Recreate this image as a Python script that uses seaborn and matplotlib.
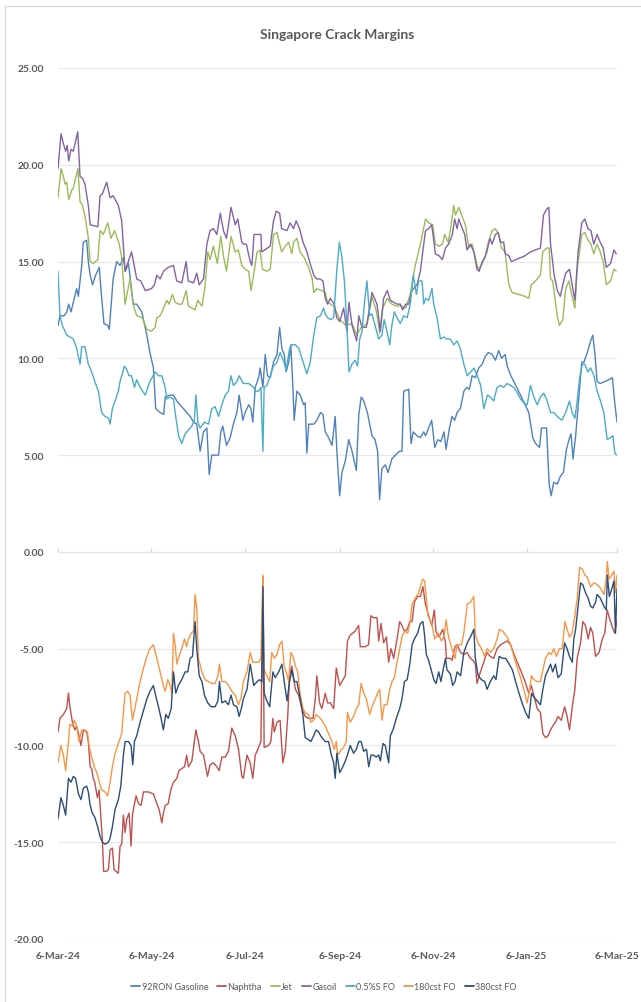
import numpy as np
import pandas as pd
import matplotlib
matplotlib.use("Agg")
import matplotlib.pyplot as plt
from matplotlib.lines import Line2D
import seaborn as sns

# day offset from 6-Mar-2024, crack margin ($/bbl)
start_date = pd.Timestamp("2024-03-06")
end_date = pd.Timestamp("2025-03-06")

gasoline = [(0,11.7),(1.3,12.2),(4,12.2),(5.7,12.4),(7,12.8),(8.5,12.4),(10,12.9),(12.2,13.6),(13.3,13.2),(15.5,14.8),
    (16.5,16.0),(18.7,16.1),(19.8,15.0),(21,14.3),(22.5,13.8),(24.6,14.3),(27,14.7),(28,13.6),(30,11.8),(32.5,11.7),
    (33.5,11.5),(36,14.1),(38.3,15.0),(40.5,14.8),(42.7,15.2),(44,14.5),(46,14.9),(47.7,13.8),(49.2,12.8),(51.4,12.8),
    (54.7,12.4),(58,11.2),(60,10.3),(62.3,9.5),(63.8,7.4),(66.7,7.2),(69,7.1),(70,8.0),(73,8.1),(75.4,8.1),
    (77.5,7.8),(79.7,7.6),(81.9,7.4),(84,7.2),(86.3,7.0),(88.5,6.7),(90.6,6.6),(92.8,5.2),(95,6.2),(97.2,6.4),
    (98.7,4.0),(100.4,5.0),(104.8,5.0),(106.3,6.2),(107.6,6.5),(110,5.5),(112.4,5.9),(114.5,6.6),(116.8,7.2),(118.3,8.1),
    (120.7,6.8),(122.2,7.2),(124.5,7.6),(126,7.4),(127.2,6.7),(128.8,8.5),(131,9.0),(132,9.5),(133.8,8.5),(135.3,10.2),
    (136.8,9.1),(138.6,9.0),(140.7,9.8),(143,10.2),(144.7,11.6),(146.2,10.5),(147.7,10.2),(149,9.3),(150.6,9.8),(152,10.7),
    (153.5,8.3),(154.2,6.8),(156,8.3),(158.2,8.1),(160.4,7.6),(161.4,7.7),(162.5,5.1),(163.7,6.6),(167,6.6),(169,6.8),
    (171.4,7.2),(173,7.1),(174.5,6.2),(176.7,5.9),(178.9,5.5),(181,7.0),(182.1,5.2),(183.9,2.9),(185.4,4.1),(187.6,4.7),
    (189.8,5.8),(192,5.2),(194.8,4.2),(196.4,7.1),(198,8.0),(199.6,7.8),(202,7.2),(205,6.0),(207,5.8),(208.7,5.2),
    (210,2.7),(211.5,4.3),(213.7,4.5),(215.5,4.1),(218,4.8),(220.3,5.0),(223,5.2),(224.6,5.2),(225.7,8.3),(229,8.4),
    (230.5,5.6),(232,6.2),(234.4,6.0),(236.6,5.9),(238.8,6.2),(240,6.0),(242,6.4),(244,6.8),(246,5.4),(248,5.8),
    (250,5.7),(252,6.2),(253.4,5.3),(255.6,6.4),(257.3,7.0),(259,6.8),(260.6,7.2),(262.7,7.4),(265,8.3),(267,8.5),
    (268.6,8.4),(270.4,9.1),(272.5,9.0),(274.7,9.5),(277,9.7),(279,10.1),(281,10.3),(283.5,10.2),(285.6,9.9),(287.8,10.4),
    (289.6,10.0),(292,10.2),(293.3,9.6),(295.7,9.1),(298.9,8.6),(302,8.1),(305,7.6),(307.4,7.2),(310,5.9),(311.8,5.6),
    (314.4,5.4),(315.7,6.4),(319,6.4),(320.7,3.5),(322,2.9),(323.7,3.6),(326,3.5),(328,3.9),(330,4.1),(332,5.3),
    (334,5.9),(335,6.1),(336.3,4.8),(338,6.0),(340,7.9),(342,9.8),(343.4,9.8),(345.6,10.3),(347.8,10.9),(349.2,11.2),
    (350.5,10.3),(352,8.8),(354,8.7),(357,8.8),(359.8,8.9),(362,9.0),(363.4,7.8),(365,6.7)]

naphtha = [(0,-9.3),(1.3,-8.6),(3.5,-8.4),(5.7,-8.1),(6.8,-7.3),(7.8,-8.0),(9.4,-8.8),(11,-9.2),(12.2,-9.0),(13.7,-9.5),
    (15,-10.0),(16.6,-9.2),(18.7,-9.3),(19.8,-9.8),(21,-11.1),(22,-11.2),(23,-11.7),(24,-11.9),(25.7,-12.7),(26.8,-12.3),
    (27.9,-13.6),(29,-14.9),(29.8,-16.5),(31.8,-16.5),(32.9,-16.4),(34,-15.4),(35.5,-15.3),(36.6,-16.4),(37.7,-16.5),(39.4,-16.6),
    (40.5,-15.2),(41.6,-15.1),(42.7,-13.6),(43.8,-14.5),(44.9,-13.8),(46.4,-13.5),(47.7,-15.2),(48.6,-13.6),(49.7,-13.1),(51,-12.6),
    (52.5,-13.0),(54.2,-13.1),(55.8,-12.4),(59,-12.4),(62.3,-12.5),(64.5,-13.0),(66,-13.3),(67.8,-14.0),(68.8,-13.5),(70,-13.1),
    (72,-13.0),(73.6,-12.3),(75.4,-11.9),(77.6,-11.7),(79,-11.3),(80.8,-11.2),(82.6,-11.1),(84,-10.5),(85.2,-11.1),(87.4,-10.8),
    (90,-9.2),(91.7,-9.8),(92.8,-10.3),(95,-10.5),(96,-10.9),(97.6,-11.6),(99.3,-11.0),(101.5,-10.9),(103.7,-11.1),(105.2,-11.3),
    (107,-10.6),(109.2,-10.6),(111.3,-10.3),(113.5,-9.1),(115.7,-9.5),(117.9,-10.2),(120,-11.6),(121,-11.7),(123.4,-10.5),(125.5,-10.9),
    (127.2,-11.7),(128.8,-10.5),(131,-10.1),(132.5,-9.8),(133.8,-1.3),(134.6,-10.1),(137.5,-10.0),(139,-9.8),(140.3,-8.6),(141.2,-9.3),
    (143,-8.8),(145,-8.7),(146.8,-10.9),(148.4,-10.3),(150,-8.5),(151.2,-6.4),(152.7,-5.9),(155,-7.1),(157.1,-7.4),(159.3,-8.1),
    (161.4,-8.5),(163.6,-8.6),(166.5,-8.6),(168,-7.6),(169,-6.4),(170.8,-7.8),(172.3,-8.1),(174.5,-7.3),(176,-7.8),(177.8,-7.8),
    (180,-8.1),(181.7,-6.0),(183.9,-6.9),(185.4,-6.7),(187.6,-6.4),(189,-4.6),(190.8,-4.3),(194,-4.1),(196.3,-3.8),(197.4,-4.9),
    (200.6,-4.9),(202.8,-4.8),(204.3,-3.3),(206.1,-3.4),(208.3,-3.4),(209.4,-4.6),(210.9,-3.7),(212.6,-4.7),(214.4,-4.4),(215.9,-5.7),
    (217.4,-5.0),(219.2,-5.5),(221.4,-4.5),(223.1,-3.6),(224.6,-3.8),(226.2,-4.1),(228,-4.0),(229.7,-3.6),(231.2,-3.6),(232.7,-2.6),
    (234.8,-2.3),(236.6,-2.3),(238.3,-1.8),(239.9,-2.7),(242,-3.3),(244,-3.8),(245.7,-3.0),(246.8,-4.1),(248.6,-4.4),(250,-4.2),
    (251.2,-4.0),(253,-4.7),(253.6,-5.5),(256,-5.5),(257.3,-5.6),(259.2,-4.9),(260.7,-4.8),(262.9,-5.2),(265,-5.3),(267.1,-5.2),
    (269.3,-5.5),(271,-5.6),(272.5,-5.8),(273.6,-6.8),(275.8,-6.2),(278,-5.7),(280,-5.2),(282.3,-5.4),(284.5,-5.5),(286.7,-5.0),
    (288.9,-4.8),(291,-4.7),(293.3,-4.6),(295.5,-4.8),(298.8,-5.5),(302,-6.1),(305,-6.7),(307.4,-7.3),(309,-6.9),(310.7,-7.4),
    (312.9,-8.1),(315,-8.3),(316.6,-9.4),(318.3,-9.6),(320,-9.5),(321.6,-9.2),(323,-9.0),(324.8,-8.8),(326.5,-8.5),(328.6,-8.7),
    (330.8,-8.0),(332.4,-8.5),(334,-9.2),(335.8,-8.0),(337.5,-7.1),(339,-5.5),(341.2,-4.7),(342.7,-3.6),(344.4,-3.8),(346.2,-4.5),
    (347.7,-3.9),(349.2,-4.2),(351,-5.4),(353.3,-5.2),(355.4,-4.5),(357,-4.2),(358.6,-3.0),(360,-3.4),(362,-3.9),(363.6,-4.2),
    (365,-3.5)]

jet = [(0,18.3),(2,19.8),(3.5,19.4),(4.6,19.0),(5.7,19.1),(7,18.2),(9,18.7),(10,18.8),(13,19.8),(14.4,18.1),
    (16,17.9),(18,17.2),(19.8,16.2),(21,15.0),(23,14.9),(26,15.1),(27.5,16.6),(29.6,16.4),(32.5,17.0),(34.6,16.2),
    (37,16.6),(40,15.9),(41.6,15.2),(43.8,12.8),(45.5,13.5),(47,14.1),(49,12.8),(51.4,12.2),(55,12.1),(58,11.5),
    (61,11.4),(63.4,11.6),(64.5,12.1),(66.7,12.2),(69,12.6),(71,13.0),(72.5,12.8),(74.7,13.3),(76.5,12.9),(78.7,12.8),
    (81,12.8),(83.7,13.5),(85.2,12.7),(87.4,12.6),(89.5,12.5),(91.3,13.0),(94,12.7),(96,13.7),(97.8,15.5),(99.3,15.1),
    (101.5,15.8),(104,14.9),(106.3,16.3),(108,15.3),(110,14.5),(113,16.3),(115.7,15.5),(117.8,15.6),(120,14.8),(122.2,14.6),
    (124.5,14.5),(126,13.5),(127.7,14.3),(130,15.5),(132,15.6),(133.5,14.6),(136.4,14.5),(138.6,14.6),(140.7,16.4),(143,16.5),
    (146,15.5),(148.5,15.8),(150.6,16.0),(152.7,15.4),(153.8,16.0),(156,16.2),(158,15.5),(160.8,15.2),(163.6,14.7),(166,14.1),
    (167,13.4),(169,13.6),(172.3,13.5),(174.5,13.4),(176,12.9),(180,12.7),(184,12.0),(188,11.7),(192,11.8),(195,11.2),
    (198,11.6),(202,11.8),(205,13.2),(208,12.4),(210,11.3),(212,12.6),(215,13.1),(218,12.8),(221,12.7),(224,12.7),
    (227,12.6),(230,13.3),(233,14.7),(236.6,15.9),(240,17.2),(242,17.0),(244.6,16.9),(246.4,15.9),(248.8,15.8),(251,15.9),
    (252.5,16.4),(254.7,16.0),(256.2,16.6),(258.4,17.9),(259.5,17.4),(261.7,17.8),(264,17.3),(266,16.9),(268.2,15.7),(270.4,15.9),
    (272.5,15.2),(274.3,14.6),(276.5,14.8),(279,15.3),(281,16.0),(283.5,16.6),(285.6,16.7),(287.8,16.4),(289.6,15.7),(292,15.5),
    (293.3,14.5),(294.4,13.8),(296.5,13.4),(300.9,13.3),(305,13.2),(307.4,13.1),(309,13.8),(311.8,14.0),(315,14.3),(316.5,15.5),
    (319,15.7),(320.7,15.7),(321.6,14.1),(323,14.0),(326,12.2),(327.4,11.7),(329.6,12.0),(331.5,13.6),(333.6,14.0),(335.7,13.2),
    (337.5,12.6),(339,14.6),(342,16.4),(344,16.5),(346,16.1),(348,15.9),(349.8,15.4),(352,15.9),(354,15.5),(356,15.0),
    (358,13.8),(360.8,14.0),(363,14.6),(364.5,14.5)]

gasoil = [(0,19.8),(2,21.6),(3.5,21.1),(5,20.7),(6,21.0),(7,20.2),(8.5,20.8),(10,20.7),(12.9,21.7),(14.4,19.4),
    (16,19.3),(17.6,19.0),(19.8,17.9),(21,16.9),(26,16.8),(27.5,18.4),(29,18.5),(31.8,19.1),(34,18.3),(36,18.4),
    (39.4,17.9),(41.6,17.1),(43.8,14.5),(45.5,14.9),(48,15.5),(50,14.7),(51.4,14.1),(54,14.0),(57,13.5),(61,13.6),
    (63,13.8),(64.5,14.3),(66.7,14.1),(68.9,14.5),(72,14.7),(75.4,14.8),(77.5,14.0),(80.8,13.9),(83.7,15.0),(85,14.0),
    (88.5,13.9),(90.6,14.4),(92.2,13.8),(95,14.1),(97.2,15.9),(99.3,16.6),(101.5,16.7),(103.7,16.4),(106,17.5),(108,16.6),
    (110,16.2),(113,17.8),(115.7,16.9),(117.4,17.2),(120,16.0),(121,15.9),(123,15.9),(125.5,15.0),(126.6,14.8),(128,16.4),
    (131,16.4),(132.5,16.4),(133,15.5),(135,15.6),(138.6,15.8),(140.7,17.1),(142.5,17.6),(144.7,17.5),(146,16.7),(149.5,16.6),
    (151.6,17.0),(153.8,16.7),(155.5,17.1),(157.7,16.7),(160,16.0),(162.5,15.5),(165,14.8),(167,14.3),(169,14.1),(171,14.1),
    (173,14.0),(174.5,13.1),(176,12.8),(177.8,13.1),(180.4,12.8),(182,12.1),(184,11.9),(186.5,12.6),(188.6,11.4),(190,12.9),
    (192,11.7),(195,10.9),(196.4,12.2),(198.5,11.6),(201.3,11.6),(203,12.4),(205,13.4),(208.3,12.8),(210.5,11.4),(212.6,13.1),
    (215,13.5),(217,13.0),(219,12.9),(221.4,12.8),(223.5,12.8),(225,12.5),(227,12.8),(229,12.8),(231,13.5),(234.4,13.8),
    (236.6,14.5),(238.8,15.9),(240,16.6),(242,16.7),(244,16.9),(245.7,15.9),(246.4,15.4),(248.8,15.3),(251,15.1),(253,15.7),
    (255,15.9),(257.5,16.4),(259,17.2),(260.6,16.7),(261.7,17.2),(264,16.7),(265.6,16.4),(267,15.6),(269.3,15.9),(271.5,15.5),
    (273.6,14.6),(275,14.5),(277,15.0),(278.7,15.2),(280,15.5),(282,16.2),(283.5,15.9),(285.6,16.4),(287.4,16.5),(288.9,16.0),
    (291,16.0),(292,15.4),(294.4,15.3),(296,15.0),(305,15.3),(308.5,15.5),(311.8,15.6),(315,15.7),(317,17.4),(319,17.7),
    (320.5,17.8),(321.6,15.9),(324,14.3),(326,13.5),(328,13.2),(329.6,13.8),(331.5,14.4),(334,14.6),(335.7,13.8),(337.5,13.0),
    (339.6,15.5),(342,17.0),(344,17.2),(346,16.7),(348,16.6),(349.8,15.9),(352,16.4),(354,16.0),(356,15.7),(358,14.7),
    (360.8,14.9),(363,15.6),(364.5,15.4)]

fo_05s = [(0,14.5),(1.3,12.2),(2.8,11.7),(5.7,11.2),(7.8,11.1),(10,11.0),(12.2,10.5),(14.4,9.7),(15.5,10.6),(17.6,10.6),
    (19.8,9.7),(22,9.3),(24,8.8),(26.4,8.3),(28.5,7.2),(30.7,7.0),(33,6.9),(34,6.6),(35.5,7.4),(37.3,7.8),
    (39.4,8.3),(40.5,8.8),(41.6,9.1),(43.4,9.6),(45,9.4),(46.4,9.1),(48,9.1),(49.9,8.5),(51.4,8.9),(53.6,8.5),
    (57,8.1),(60,8.8),(63.4,9.3),(65.6,9.1),(67.8,9.1),(70,8.5),(71,7.9),(73.2,8.0),(75.4,7.9),(76.5,7.2),
    (78.7,6.0),(80.8,5.6),(83,6.1),(85.2,6.3),(87.4,6.5),(89,6.8),(90,8.1),(91.3,6.7),(92.8,6.4),(95.6,6.7),
    (98.3,6.6),(100.4,7.4),(102.6,7.5),(104.8,7.0),(107,7.6),(109.2,8.1),(111.3,8.3),(112.9,9.1),(114.6,8.6),(116.8,8.8),
    (118.3,9.1),(121,8.7),(124.5,8.7),(127.8,8.5),(128.8,8.3),(131,8.3),(132.5,8.5),(133.8,5.2),(134.6,8.5),(136.4,8.6),
    (138.6,9.1),(140.7,9.6),(143,9.8),(145,10.3),(147.6,9.8),(149,9.4),(151.2,10.5),(152.7,10.7),(155,10.7),(157.3,10.5),
    (159.3,10.0),(162.5,9.2),(164.7,9.8),(167,11.2),(169,12.1),(171.4,12.2),(173.4,12.6),(174.5,12.3),(176,12.1),(178,12.0),
    (180,12.1),(182,14.5),(183.7,16.0),(185.4,15.2),(187,14.0),(188.6,11.7),(190,9.3),(192,9.7),(194,9.9),(195.6,9.6),
    (197,11.0),(198.5,11.4),(200,12.8),(201.7,14.0),(203.5,12.2),(205,12.3),(207,11.7),(209.4,11.0),(211.5,11.2),(213,12.0),
    (214.8,11.4),(216.6,10.7),(218,11.7),(219.6,12.4),(221.4,12.1),(223.5,11.8),(225.7,12.2),(228,12.1),(230,12.8),(232,14.3),
    (234,13.3),(235.5,14.0),(237.7,14.0),(238.8,12.8),(240,13.1),(242,13.0),(244.2,13.6),(245.3,12.8),(247.5,12.1),(249.7,11.0),
    (252,11.1),(254,11.0),(256.2,11.0),(258.4,10.7),(260.6,10.9),(262.7,10.5),(265,9.7),(267.2,9.1),(269.4,9.3),(271.6,9.5),
    (273.8,9.1),(276,8.6),(278,7.4),(280.4,8.1),(282.4,8.0),(284.5,7.8),(286.7,8.5),(289,8.6),(291,8.5),(293.3,8.7),
    (295.5,8.6),(297.6,8.5),(300,8.2),(302,7.9),(304.2,7.7),(306.4,7.6),(308.5,8.6),(310.7,8.0),(312.9,7.6),(315,8.0),
    (317.2,8.2),(319.4,7.8),(321.6,7.2),(323.7,7.2),(326,7.0),(329,6.8),(331.5,7.2),(334,7.8),(335.7,7.2),(337.5,6.9),
    (339,7.8),(340.6,9.0),(342.4,9.7),(344,9.7),(346,9.3),(347.8,9.5),(350,9.1),(352,8.3),(354.2,7.8),(356.4,7.2),
    (358.6,5.8),(360.8,5.9),(362.3,6.0),(363.6,5.1),(364.7,5.0)]

fo_180 = [(0,-10.9),(1.9,-10.0),(3.5,-10.5),(5,-11.3),(6.8,-9.8),(7.8,-8.9),(9.4,-9.0),(10.7,-8.7),(12.2,-9.0),(13.7,-9.8),
    (15.5,-9.2),(17.6,-9.2),(19.2,-9.3),(20.5,-10.1),(22,-10.6),(23.7,-11.1),(25.3,-11.4),(27,-11.9),(28.5,-12.3),(30.7,-12.4),
    (32.5,-12.6),(34,-11.9),(35.5,-11.1),(37.3,-10.4),(39.4,-9.9),(41.6,-9.4),(42.7,-8.3),(43.8,-7.3),(45.5,-7.2),(47,-7.4),
    (48.6,-8.7),(49.9,-8.2),(51.4,-7.6),(53.6,-6.7),(55.8,-6.0),(58,-5.4),(60,-5.0),(62.3,-4.8),(64.5,-5.5),(66.7,-6.2),
    (68.8,-6.9),(70,-7.2),(71.7,-6.6),(73.2,-6.9),(74.3,-7.3),(75.4,-4.2),(76.5,-4.8),(77.6,-5.8),(79,-5.4),(80.8,-5.0),
    (82.6,-4.5),(84,-4.9),(85.2,-4.5),(87,-4.2),(88.5,-4.1),(89.5,-2.2),(90.6,-2.9),(91.7,-5.5),(94,-6.2),(96,-6.6),
    (98.3,-6.7),(100.4,-6.8),(102.6,-6.8),(104.4,-6.4),(105.4,-5.8),(107,-6.7),(109.2,-6.7),(111.3,-6.9),(113.5,-7.2),(115.7,-7.4),
    (117.9,-7.9),(119.6,-7.5),(121,-6.7),(123.4,-6.2),(125.5,-5.2),(127.2,-5.7),(129.4,-5.7),(131,-5.7),(132.5,-5.5),(133.8,-1.2),
    (134.6,-6.1),(136.4,-6.4),(138.2,-6.7),(139.6,-5.2),(141.2,-5.5),(143,-5.3),(144.7,-4.8),(146.2,-4.6),(147.7,-5.9),(149,-6.2),
    (150.6,-6.7),(152,-5.2),(153.5,-5.4),(155,-5.9),(156.5,-6.2),(158.2,-7.4),(160,-8.1),(161.4,-8.3),(163.6,-8.4),(165.1,-8.8),
    (166.9,-8.7),(168.6,-8.4),(170.1,-8.5),(172.3,-8.7),(174.5,-9.0),(176.7,-9.4),(178.9,-9.8),(180.4,-10.2),(181.7,-9.8),(182.6,-10.5),
    (184.3,-10.3),(186.5,-10.1),(188.2,-9.8),(189,-8.3),(190.8,-8.8),(193,-8.5),(194.8,-8.1),(196.4,-7.9),(197.9,-6.8),(199.6,-7.3),
    (201.4,-7.6),(203.5,-8.4),(205,-8.0),(207.2,-7.6),(208.7,-7.3),(210,-7.1),(211.6,-8.7),(213,-7.9),(214.8,-7.9),(216.6,-7.1),
    (218.1,-6.7),(219.6,-6.5),(221.4,-5.7),(223.1,-5.0),(224.9,-4.3),(226.8,-4.1),(228.3,-4.2),(229.7,-3.7),(231.2,-2.7),(233.3,-2.4),
    (235.5,-2.1),(237,-1.7),(238.3,-1.4),(239.4,-1.5),(241.6,-3.3),(244,-3.7),(246,-4.5),(248.3,-4.2),(250.3,-4.6),(252,-4.4),
    (253.4,-3.5),(255,-4.4),(257.3,-5.0),(259.2,-5.5),(260.6,-4.8),(263.4,-4.8),(265,-4.2),(267.2,-2.7),(269.3,-2.6),(271.5,-2.3),
    (272.5,-4.3),(274.3,-4.7),(276.5,-5.0),(278.6,-5.4),(280.2,-5.0),(282.3,-5.2),(284.5,-5.0),(286.7,-4.5),(288.2,-4.0),(290.4,-4.1),
    (293.3,-4.4),(295.5,-4.8),(298.8,-5.7),(302,-6.5),(304.8,-7.3),(306.4,-7.8),(308,-7.1),(309.2,-6.4),(310.7,-6.6),(312.9,-6.7),
    (315,-6.7),(316.6,-6.1),(318.3,-5.5),(320.5,-5.2),(322.2,-5.3),(323.7,-5.0),(325.5,-5.4),(327.4,-5.0),(329.2,-5.0),(331,-3.6),
    (332.4,-4.0),(334,-4.4),(335.7,-4.2),(337.5,-3.3),(339,-2.4),(340.6,-0.8),(342.4,-0.9),(344,-1.2),(345.6,-1.3),(347.8,-1.8),
    (350,-1.6),(352.2,-1.7),(354.4,-1.9),(356.6,-2.2),(358,-1.3),(358.7,-0.5),(359.8,-1.4),(361.5,-1.2),(363,-1.0),(364,-2.1),
    (365,-1.2)]

fo_380 = [(0,-13.8),(1.9,-12.7),(3.5,-13.1),(5,-13.6),(6.8,-11.7),(8.5,-11.9),(10,-11.6),(11.5,-11.7),(13.3,-12.5),(15,-12.8),
    (16.6,-12.2),(18.7,-12.1),(19.8,-12.4),(21,-13.1),(22.4,-13.5),(24,-13.7),(25.9,-14.2),(27.5,-14.7),(29,-15.0),(30.7,-15.1),
    (32.9,-15.0),(34,-14.8),(35.5,-14.2),(37.3,-13.3),(39.4,-12.8),(41,-12.1),(42.7,-10.5),(43.8,-9.8),(46,-9.8),(47.7,-10.0),
    (48.8,-11.0),(49.9,-9.8),(51.4,-9.5),(53.6,-8.8),(55.8,-8.2),(58,-7.6),(60.1,-7.2),(62.3,-6.9),(63.4,-7.3),(65.6,-8.0),
    (67.3,-8.6),(68.8,-9.2),(70.4,-8.4),(72,-8.6),(73.9,-8.1),(75.4,-6.2),(76.9,-7.3),(78.6,-6.9),(80.8,-6.6),(83,-6.2),
    (84.7,-6.2),(86.3,-5.5),(87.8,-5.4),(89.5,-3.6),(90.6,-5.0),(92.2,-6.4),(94,-6.7),(95.6,-7.4),(97.8,-7.8),(100,-8.0),
    (102.6,-8.0),(104.4,-7.7),(105.4,-6.7),(107,-7.8),(109.2,-7.7),(111.3,-7.9),(113,-7.4),(114.6,-7.9),(116.8,-8.0),(118.3,-8.5),
    (120,-8.0),(121,-7.6),(123.4,-7.1),(125.5,-5.8),(127.8,-6.9),(130,-6.7),(131.6,-6.6),(133.1,-6.7),(133.8,-1.8),(134.6,-7.3),
    (136.4,-7.7),(138.2,-8.0),(140.3,-6.2),(141.8,-6.5),(144.1,-6.2),(146.2,-5.8),(147.7,-6.7),(149.5,-7.7),(151.2,-6.7),(152.7,-6.1),
    (154.2,-6.7),(156,-6.7),(158.2,-7.6),(160,-8.5),(161.4,-9.6),(163.6,-9.7),(165.1,-9.8),(166.9,-9.5),(168.6,-9.2),(170.1,-9.3),
    (172.3,-9.6),(174.5,-9.8),(176.7,-9.8),(178.2,-10.4),(180,-10.9),(181,-11.7),(182.1,-10.4),(183.9,-11.4),(185.4,-11.2),(187.6,-10.8),
    (189,-10.5),(190.8,-10.0),(193,-10.4),(194.8,-10.2),(196.4,-9.8),(197.9,-9.8),(199.6,-10.3),(201.4,-10.2),(202.9,-11.1),(204.4,-10.5),
    (206.1,-10.5),(207.8,-10.6),(209.4,-10.5),(210.5,-10.8),(212.2,-9.9),(213.7,-10.0),(215.9,-10.9),(217,-9.5),(218.7,-9.2),(220.9,-8.6),
    (223.1,-8.1),(224.6,-7.6),(226.2,-6.7),(228,-6.6),(229.7,-5.8),(231.2,-4.8),(232.7,-4.5),(234.8,-4.2),(236.6,-3.7),(238.3,-3.6),
    (239.2,-4.2),(240.5,-5.3),(242,-5.6),(244,-6.2),(245.4,-6.6),(246.8,-6.8),(248.6,-6.2),(250,-6.7),(251.2,-6.2),(253,-5.5),
    (254,-6.1),(256.2,-6.3),(257.7,-6.9),(259.2,-6.7),(260.6,-6.2),(262.9,-6.4),(265,-5.2),(267.2,-4.7),(269.3,-4.4),(271.5,-4.0),
    (272.5,-5.5),(274.3,-6.4),(276.5,-6.6),(278.6,-6.7),(280.2,-7.1),(282.3,-6.7),(284.5,-6.4),(286,-6.6),(288,-5.4),(290.2,-5.5),
    (292.4,-5.5),(294.6,-5.8),(296.7,-6.1),(298.8,-6.7),(301,-7.3),(303,-7.8),(305.3,-8.3),(307.4,-8.6),(309.2,-7.3),(310.7,-7.5),
    (312.9,-7.7),(315,-7.9),(316.6,-7.1),(318.3,-6.4),(320,-6.1),(321.6,-5.8),(323,-6.2),(324.8,-5.8),(326.5,-6.5),(328.6,-6.3),
    (330.8,-4.7),(332.4,-5.0),(334,-5.4),(335.8,-5.7),(336.8,-4.5),(338,-4.0),(339.6,-2.8),(341.2,-1.6),(342.7,-1.7),(344.4,-2.1),
    (346.2,-2.4),(347.7,-2.8),(349.2,-2.9),(351,-2.6),(352,-2.2),(354.2,-2.4),(356.4,-2.8),(358,-3.0),(358.7,-1.2),(360,-2.3),
    (362,-1.8),(363,-1.5),(364,-4.2),(365,-1.9)]

series_names = ["92RON Gasoline", "Naphtha", "Jet", "Gasoil", "0.5%S FO", "180cst FO", "380cst FO"]
series_data = [gasoline, naphtha, jet, gasoil, fo_05s, fo_180, fo_380]
series_colors = ["#4F81BD", "#C0504D", "#9BBB59", "#8064A2", "#4BACC6", "#F79646", "#2C4D75"]

tick_dates = ["2024-03-06", "2024-05-06", "2024-07-06", "2024-09-06", "2024-11-06", "2025-01-06", "2025-03-06"]
tick_labels = ["6-Mar-24", "6-May-24", "6-Jul-24", "6-Sep-24", "6-Nov-24", "6-Jan-25", "6-Mar-25"]
y_ticks = [25, 20, 15, 10, 5, 0, -5, -10, -15, -20]

frames = []
for name, pts in zip(series_names, series_data):
    arr = np.array(pts)
    frames.append(pd.DataFrame({
        "date": start_date + pd.to_timedelta(arr[:, 0], unit="D"),
        "value": arr[:, 1],
        "series": name,
    }))
df = pd.concat(frames, ignore_index=True)

sns.set_style("white")
plt.rcParams['font.family'] = ['Lato', 'DejaVu Sans']
grey = "#595959"

fig = plt.figure(figsize=(6.41, 10.03), dpi=100)
ax = fig.add_axes([58/641, 1-940/1003, (617-58)/641, (940-69)/1003])

sns.lineplot(data=df, x="date", y="value", hue="series", hue_order=series_names,
             palette=dict(zip(series_names, series_colors)), estimator=None,
             linewidth=1.0, ax=ax, legend=False)

ax.set_xlim(start_date, end_date)
ax.set_ylim(-20, 25)
ax.set_yticks(y_ticks)
ax.set_yticklabels(["%.2f" % v for v in y_ticks])
ax.set_xticks(pd.to_datetime(tick_dates))
ax.set_xticklabels(tick_labels)
ax.set_xlabel("")
ax.set_ylabel("")
ax.tick_params(axis="both", length=0, labelsize=7.5, colors=grey)
ax.tick_params(axis="y", pad=10)
ax.tick_params(axis="x", pad=9)
for lab in ax.get_xticklabels() + ax.get_yticklabels():
    lab.set_fontweight("bold")
ax.yaxis.grid(True, color="#E8E8E8", linewidth=0.8)
ax.xaxis.grid(False)
ax.set_axisbelow(True)
for sp in ax.spines.values():
    sp.set_visible(False)

# horizontal axis line sitting at zero, with its small tick marks
zero_axis = ax.secondary_xaxis(0, transform=ax.transData)
zero_axis.set_xticks(pd.to_datetime(tick_dates))
zero_axis.set_xticklabels([])
zero_axis.tick_params(length=3, direction="in", color="#D9D9D9", width=0.8)
zero_axis.spines["bottom"].set_color("#D9D9D9")
zero_axis.spines["bottom"].set_linewidth(0.8)

fig.text(0.526, 1-35/1003, "Singapore Crack Margins", ha="center", va="center",
         fontsize=10, fontweight="bold", color=grey)

handles = [Line2D([], [], color=c, linewidth=1.3) for c in series_colors]
fig.legend(handles, series_names, loc="center", bbox_to_anchor=(324/641, 1-988/1003),
           ncol=7, frameon=False, fontsize=6.5, handlelength=1.0, handletextpad=0.15,
           columnspacing=1.0, labelcolor=grey)

# light chart border (left and top edges visible)
fig.add_artist(Line2D([5/641, 5/641], [0, 1-7/1003], color="#D9D9D9", linewidth=1.0))
fig.add_artist(Line2D([5/641, 1], [1-7/1003, 1-7/1003], color="#D9D9D9", linewidth=1.0))

plt.savefig("out.png", dpi=100)
